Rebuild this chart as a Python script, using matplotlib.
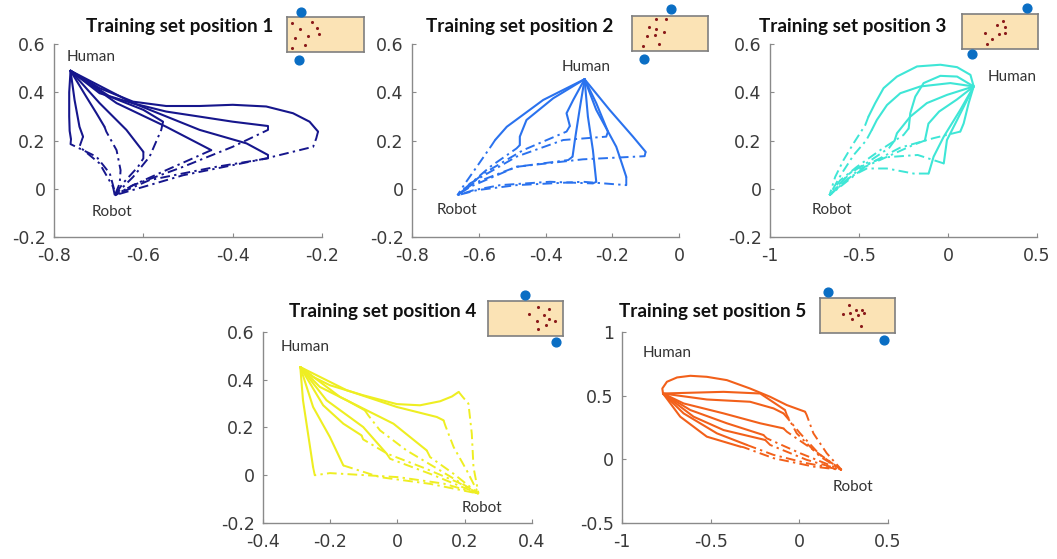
import matplotlib.pyplot as plt
from matplotlib.ticker import FuncFormatter

plt.rcParams['axes.unicode_minus'] = False

# each run: solid path from the human hand to a handover point,
# then dash-dot path from that point back to the robot
p1_human = (-0.763, 0.489)
p1_robot = (-0.664, -0.027)
p1_solid = [
    [(-0.766, 0.40), (-0.766, 0.30), (-0.765, 0.24), (-0.762, 0.205)],
    [(-0.754, 0.368), (-0.743, 0.257), (-0.735, 0.216)],
    [(-0.728, 0.382), (-0.705, 0.313), (-0.687, 0.257)],
    [(-0.698, 0.355), (-0.638, 0.244), (-0.600, 0.153)],
    [(-0.675, 0.382), (-0.600, 0.327), (-0.556, 0.278)],
    [(-0.660, 0.355), (-0.549, 0.257), (-0.448, 0.160)],
    [(-0.698, 0.396), (-0.623, 0.354), (-0.549, 0.320), (-0.474, 0.299), (-0.400, 0.278), (-0.321, 0.260)],
    [(-0.623, 0.355), (-0.474, 0.244), (-0.369, 0.188), (-0.321, 0.140)],
    [(-0.698, 0.417), (-0.623, 0.361), (-0.549, 0.343), (-0.474, 0.343), (-0.400, 0.348),
     (-0.325, 0.341), (-0.265, 0.313), (-0.228, 0.278), (-0.209, 0.237)],
]
p1_dashdot = [
    [(-0.763, 0.185), (-0.705, 0.133), (-0.675, 0.063), (-0.664, -0.013)],
    [(-0.743, 0.174), (-0.698, 0.105), (-0.668, 0.008)],
    [(-0.683, 0.237), (-0.660, 0.160), (-0.651, 0.077), (-0.653, 0.022)],
    [(-0.600, 0.126), (-0.612, 0.091), (-0.646, 0.022)],
    [(-0.560, 0.244), (-0.586, 0.133), (-0.623, 0.049)],
    [(-0.549, 0.077), (-0.623, 0.015)],
    [(-0.321, 0.244), (-0.400, 0.174), (-0.511, 0.091), (-0.623, 0.015)],
    [(-0.321, 0.126), (-0.437, 0.091), (-0.586, 0.036)],
    [(-0.213, 0.209), (-0.220, 0.174), (-0.325, 0.126), (-0.511, 0.056)],
]

p2_human = (-0.283, 0.454)
p2_robot = (-0.664, -0.027)
p2_solid = [
    [(-0.407, 0.368), (-0.516, 0.257), (-0.551, 0.202)],
    [(-0.377, 0.375), (-0.457, 0.285), (-0.477, 0.216), (-0.477, 0.181)],
    [(-0.317, 0.368), (-0.337, 0.313), (-0.327, 0.260)],
    [(-0.298, 0.327), (-0.312, 0.202), (-0.319, 0.133)],
    [(-0.273, 0.299), (-0.258, 0.160), (-0.248, 0.029)],
    [(-0.248, 0.327), (-0.188, 0.174), (-0.178, 0.133), (-0.158, 0.049)],
    [(-0.248, 0.355), (-0.213, 0.237)],
    [(-0.208, 0.327), (-0.138, 0.216), (-0.100, 0.153)],
]
p2_dashdot = [
    [(-0.561, 0.181), (-0.606, 0.091), (-0.641, 0.022)],
    [(-0.487, 0.167), (-0.566, 0.091), (-0.636, 0.008)],
    [(-0.337, 0.237), (-0.467, 0.160), (-0.586, 0.063)],
    [(-0.332, 0.119), (-0.487, 0.091), (-0.616, 0.022)],
    [(-0.258, 0.022), (-0.387, 0.029), (-0.536, 0.015), (-0.616, -0.006)],
    [(-0.158, 0.015), (-0.288, 0.029), (-0.487, 0.015), (-0.606, -0.006)],
    [(-0.218, 0.216), (-0.347, 0.202), (-0.487, 0.133), (-0.626, 0.022)],
    [(-0.103, 0.135), (-0.288, 0.122), (-0.487, 0.091), (-0.626, 0.008)],
]

p3_human = (0.144, 0.424)
p3_robot = (-0.666, -0.027)
p3_solid = [
    [(0.126, 0.472), (0.051, 0.504), (-0.043, 0.514), (-0.174, 0.507), (-0.287, 0.465),
     (-0.362, 0.417), (-0.409, 0.355), (-0.447, 0.299)],
    [(0.051, 0.465), (-0.043, 0.468), (-0.137, 0.438), (-0.184, 0.382), (-0.212, 0.313), (-0.221, 0.250)],
    [(0.013, 0.438), (-0.156, 0.424), (-0.268, 0.396), (-0.343, 0.347), (-0.400, 0.285), (-0.428, 0.244)],
    [(-0.006, 0.389), (-0.119, 0.355), (-0.212, 0.299), (-0.287, 0.230), (-0.30, 0.20)],
    [(0.05, 0.37), (-0.05, 0.32), (-0.11, 0.27), (-0.13, 0.20)],
    [(0.069, 0.327), (-0.024, 0.216), (-0.081, 0.133), (-0.109, 0.063)],
    [(0.107, 0.368), (0.051, 0.285), (-0.006, 0.202), (-0.024, 0.105)],
    [(0.116, 0.355), (0.088, 0.271), (0.069, 0.237)],
]
p3_dashdot = [
    [(-0.465, 0.264), (-0.531, 0.188), (-0.587, 0.119), (-0.634, 0.049)],
    [(-0.250, 0.223), (-0.381, 0.160), (-0.512, 0.091), (-0.606, 0.035)],
    [(-0.46, 0.20), (-0.53, 0.14), (-0.60, 0.06)],
    [(-0.33, 0.17), (-0.45, 0.11), (-0.56, 0.06)],
    [(-0.20, 0.18), (-0.35, 0.13), (-0.50, 0.08)],
    [(-0.193, 0.063), (-0.343, 0.084), (-0.456, 0.084), (-0.55, 0.049)],
    [(-0.17, 0.14), (-0.36, 0.13), (-0.53, 0.08)],
    [(-0.08, 0.21), (-0.27, 0.17), (-0.45, 0.10)],
]

p4_human = (-0.289, 0.453)
p4_robot = (0.241, -0.077)
p4_solid = [
    [(-0.281, 0.314), (-0.266, 0.174), (-0.251, 0.034)],
    [(-0.251, 0.286), (-0.201, 0.160), (-0.161, 0.041)],
    [(-0.221, 0.293), (-0.161, 0.216), (-0.107, 0.167)],
    [(-0.211, 0.314), (-0.102, 0.202), (-0.032, 0.090)],
    [(-0.171, 0.328), (-0.012, 0.216), (0.087, 0.104)],
    [(-0.151, 0.356), (-0.002, 0.286), (0.117, 0.244), (0.137, 0.230)],
    [(-0.251, 0.412), (-0.201, 0.377), (-0.102, 0.335), (-0.002, 0.298), (0.067, 0.293),
     (0.127, 0.310), (0.162, 0.330), (0.182, 0.349)],
    [(-0.231, 0.370), (-0.151, 0.314), (-0.097, 0.272)],
]
p4_dashdot = [
    [(-0.246, 0.0), (-0.201, 0.009), (0.003, -0.008), (0.137, -0.035)],
    [(-0.052, -0.008), (0.097, -0.036)],
    [(-0.102, 0.150), (-0.03, 0.09), (0.08, 0.03), (0.18, -0.03)],
    [(-0.022, 0.069), (0.097, 0.006)],
    [(0.097, 0.076), (0.167, 0.006)],
    [(0.142, 0.209), (0.167, 0.118), (0.206, 0.020)],
    [(0.194, 0.328), (0.211, 0.300), (0.221, 0.174), (0.226, 0.034)],
    [(-0.087, 0.251), (-0.052, 0.188), (0.027, 0.104), (0.127, 0.020)],
]

p5_human = (-0.769, 0.517)
p5_robot = (0.238, -0.083)
p5_solid = [
    [(-0.773, 0.556), (-0.747, 0.609), (-0.690, 0.643), (-0.615, 0.656), (-0.522, 0.648),
     (-0.409, 0.622), (-0.278, 0.556), (-0.165, 0.491), (-0.071, 0.426), (0.032, 0.374)],
    [(-0.428, 0.530), (-0.221, 0.517), (-0.109, 0.413), (-0.081, 0.387)],
    [(-0.522, 0.470), (-0.278, 0.452), (-0.146, 0.400), (-0.090, 0.361)],
    [(-0.653, 0.439), (-0.428, 0.361), (-0.221, 0.283), (-0.090, 0.243)],
    [(-0.615, 0.387), (-0.409, 0.283), (-0.203, 0.191)],
    [(-0.597, 0.335), (-0.428, 0.230), (-0.193, 0.152)],
    [(-0.653, 0.361), (-0.465, 0.204), (-0.296, 0.113)],
    [(-0.672, 0.335), (-0.522, 0.178), (-0.334, 0.100)],
]
p5_dashdot = [
    [(0.041, 0.348), (0.079, 0.204), (0.154, 0.048)],
    [(-0.071, 0.348), (-0.015, 0.204), (0.116, 0.022)],
    [(-0.071, 0.33), (0.004, 0.204), (0.116, 0.035)],
    [(-0.071, 0.217), (0.079, 0.074)],
    [(-0.184, 0.165), (0.004, 0.048)],
    [(-0.165, 0.113), (0.041, -0.004)],
    [(-0.146, 0.035), (0.041, -0.030)],
    [(-0.315, 0.095), (-0.146, 0.009), (0.079, -0.057)],
]

# table layout sketches: fractional positions inside the table box
p1_items = [(0.07, 0.17), (0.32, 0.14), (0.39, 0.31), (0.17, 0.34), (0.42, 0.48),
            (0.27, 0.53), (0.10, 0.60), (0.24, 0.81), (0.06, 0.90)]
p1_people = [(0.18, -0.14), (0.16, 1.22)]
p2_items = [(0.22, 0.32), (0.32, 0.37), (0.45, 0.10), (0.32, 0.10), (0.20, 0.56),
            (0.30, 0.53), (0.42, 0.47), (0.15, 0.85), (0.35, 0.79)]
p2_people = [(0.51, -0.19), (0.16, 1.22)]
p3_items = [(0.30, 0.55), (0.46, 0.31), (0.54, 0.19), (0.57, 0.55), (0.49, 0.57),
            (0.40, 0.71), (0.33, 0.85), (0.56, 0.36)]
p3_people = [(0.86, -0.16), (0.13, 1.14)]
p4_items = [(0.67, 0.17), (0.81, 0.22), (0.55, 0.36), (0.75, 0.39), (0.81, 0.50),
            (0.89, 0.58), (0.65, 0.58), (0.77, 0.69), (0.67, 0.80)]
p4_people = [(0.49, -0.16), (0.90, 1.18)]
p5_items = [(0.39, 0.19), (0.48, 0.33), (0.56, 0.33), (0.30, 0.45), (0.40, 0.43),
            (0.50, 0.50), (0.59, 0.43), (0.42, 0.60), (0.55, 0.81)]
p5_people = [(0.11, -0.16), (0.85, 1.19)]

panels = [
    dict(title='Training set position 1', color='#16168C', human=p1_human, robot=p1_robot,
         solid=p1_solid, dashdot=p1_dashdot, xlim=(-0.8, -0.2), ylim=(-0.2, 0.6),
         xticks=[-0.8, -0.6, -0.4, -0.2], yticks=[-0.2, 0, 0.2, 0.4, 0.6],
         rect=[0.0511, 0.5760, 0.2536, 0.3453], title_xy=(0.1698, 0.9517),
         human_xy=(-0.771, 0.546), robot_xy=(-0.715, -0.096),
         inset=[0.2715, 0.9070, 0.0728, 0.0626], items=p1_items, people=p1_people),
    dict(title='Training set position 2', color='#2A72EE', human=p2_human, robot=p2_robot,
         solid=p2_solid, dashdot=p2_dashdot, xlim=(-0.8, 0), ylim=(-0.2, 0.6),
         xticks=[-0.8, -0.6, -0.4, -0.2, 0], yticks=[-0.2, 0, 0.2, 0.4, 0.6],
         rect=[0.3898, 0.5760, 0.2526, 0.3453], title_xy=(0.4920, 0.9517),
         human_xy=(-0.351, 0.505), robot_xy=(-0.725, -0.088),
         inset=[0.5979, 0.9088, 0.0719, 0.0626], items=p2_items, people=p2_people),
    dict(title='Training set position 3', color='#3EE6D6', human=p3_human, robot=p3_robot,
         solid=p3_solid, dashdot=p3_dashdot, xlim=(-1, 0.5), ylim=(-0.2, 0.6),
         xticks=[-1, -0.5, 0, 0.5], yticks=[-0.2, 0, 0.2, 0.4, 0.6],
         rect=[0.7285, 0.5760, 0.2526, 0.3453], title_xy=(0.8070, 0.9517),
         human_xy=(0.225, 0.463), robot_xy=(-0.764, -0.088),
         inset=[0.9101, 0.9123, 0.0719, 0.0626], items=p3_items, people=p3_people),
    dict(title='Training set position 4', color='#EEEE22', human=p4_human, robot=p4_robot,
         solid=p4_solid, dashdot=p4_dashdot, xlim=(-0.4, 0.4), ylim=(-0.2, 0.6),
         xticks=[-0.4, -0.2, 0, 0.2, 0.4], yticks=[-0.2, 0, 0.2, 0.4, 0.6],
         rect=[0.2488, 0.0644, 0.2545, 0.3417], title_xy=(0.3623, 0.4419),
         human_xy=(-0.349, 0.537), robot_xy=(0.192, -0.137),
         inset=[0.4617, 0.3989, 0.0710, 0.0626], items=p4_items, people=p4_people),
    dict(title='Training set position 5', color='#F2601A', human=p5_human, robot=p5_robot,
         solid=p5_solid, dashdot=p5_dashdot, xlim=(-1, 0.5), ylim=(-0.5, 1),
         xticks=[-1, -0.5, 0, 0.5], yticks=[-0.5, 0, 0.5, 1],
         rect=[0.5885, 0.0644, 0.2517, 0.3417], title_xy=(0.6746, 0.4419),
         human_xy=(-0.882, 0.835), robot_xy=(0.19, -0.218),
         inset=[0.7758, 0.4043, 0.0710, 0.0626], items=p5_items, people=p5_people),
]

fig = plt.figure(figsize=(10.57, 5.59), dpi=100)
fmt = FuncFormatter(lambda v, pos: f'{v:g}')

for p in panels:
    ax = fig.add_axes(p['rect'])
    hx, hy = p['human']
    for seg, back in zip(p['solid'], p['dashdot']):
        ax.plot([hx] + [q[0] for q in seg], [hy] + [q[1] for q in seg],
                color=p['color'], lw=1.5, solid_joinstyle='round', solid_capstyle='round')
        pts = [seg[-1]] + back + [p['robot']]
        ax.plot([q[0] for q in pts], [q[1] for q in pts], color=p['color'], lw=1.4,
                linestyle=(0, (5, 2.2, 1.2, 2.2)))
    ax.set_xlim(p['xlim'])
    ax.set_ylim(p['ylim'])
    ax.set_xticks(p['xticks'])
    ax.set_yticks(p['yticks'])
    ax.xaxis.set_major_formatter(fmt)
    ax.yaxis.set_major_formatter(fmt)
    for s in ['top', 'right']:
        ax.spines[s].set_visible(False)
    for s in ['left', 'bottom']:
        ax.spines[s].set_color('#8a8a8a')
        ax.spines[s].set_linewidth(1.0)
    ax.tick_params(direction='in', length=3, color='#8a8a8a', labelsize=12.5,
                   labelcolor='#3a3a3a')
    ax.tick_params(axis='x', pad=7)
    ax.tick_params(axis='y', pad=6)
    ax.text(*p['human_xy'], 'Human', family='Lato', fontsize=11, color='#333333',
            ha='left', va='center')
    ax.text(*p['robot_xy'], 'Robot', family='Lato', fontsize=11, color='#333333',
            ha='left', va='center')
    fig.text(*p['title_xy'], p['title'], family='Lato', fontweight='bold', fontsize=13.6,
             color='#111111', ha='center', va='center')

    # table sketch with objects (red) and the two people (blue)
    ins = fig.add_axes(p['inset'])
    ins.set_xlim(0, 1)
    ins.set_ylim(1, 0)
    ins.set_facecolor('#FBE3B5')
    ins.set_xticks([])
    ins.set_yticks([])
    for s in ins.spines.values():
        s.set_color('#7f7f7f')
        s.set_linewidth(1.2)
    ins.scatter([q[0] for q in p['items']], [q[1] for q in p['items']], s=5,
                color='#8B1A1A', linewidths=0)
    ins.scatter([q[0] for q in p['people']], [q[1] for q in p['people']], s=40,
                color='#0A6EC4', clip_on=False, zorder=5)

fig.savefig('out.png', dpi=100)
